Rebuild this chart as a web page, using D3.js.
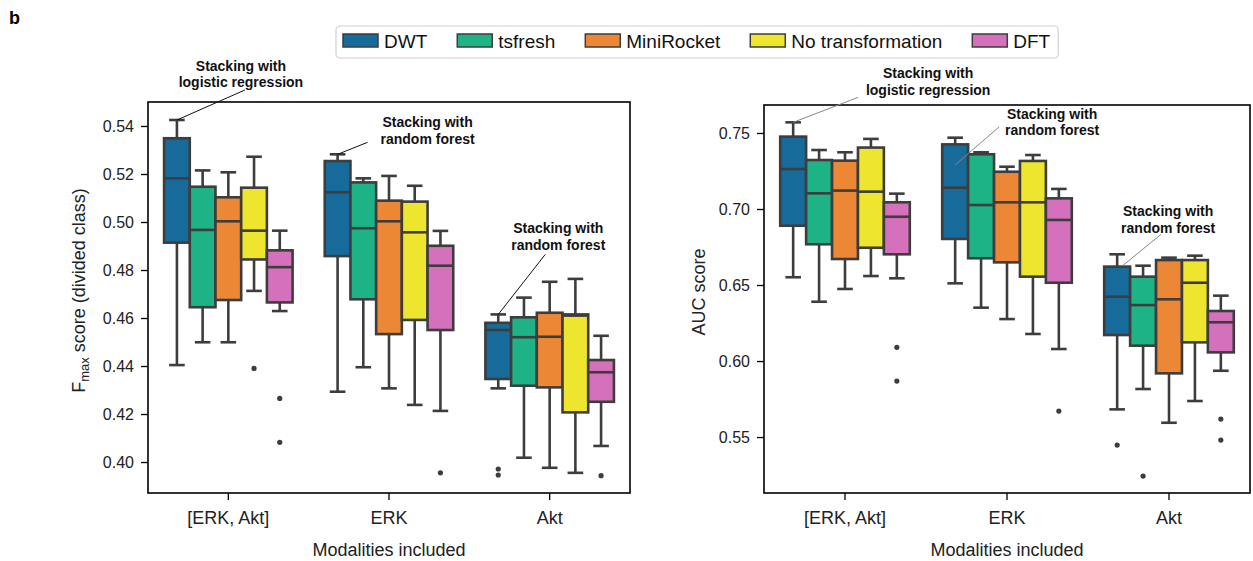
<!DOCTYPE html>
<html>
<head>
<meta charset="utf-8">
<script src="https://cdn.jsdelivr.net/npm/d3@7"></script>
<style>
  body { margin: 0; background: #fff; }
  text { font-family: "Liberation Sans", Arial, sans-serif; }
</style>
</head>
<body>
<script>
// categories and methods
var categories = ["[ERK, Akt]", "ERK", "Akt"];
var methods = ["DWT", "tsfresh", "MiniRocket", "No transformation", "DFT"];
var colors = ["#176b9a", "#1db386", "#ec8735", "#eee62e", "#d470bc"];

// box stats per method: [low whisker, q1, median, q3, high whisker]
var fmaxErkAkt = [[0.4404, 0.4914, 0.5182, 0.5349, 0.5425],
                  [0.4499, 0.4645, 0.4967, 0.5147, 0.5215],
                  [0.4499, 0.4675, 0.5003, 0.5103, 0.5207],
                  [0.4713, 0.4844, 0.4964, 0.5143, 0.5272],
                  [0.4629, 0.4665, 0.4812, 0.4882, 0.4964]];
var fmaxErk = [[0.4293, 0.4858, 0.5124, 0.5254, 0.5282],
               [0.4395, 0.4678, 0.4974, 0.5165, 0.5182],
               [0.4307, 0.4533, 0.5003, 0.5089, 0.5192],
               [0.4238, 0.4592, 0.4957, 0.5085, 0.5151],
               [0.4213, 0.4550, 0.4818, 0.4901, 0.4963]];
var fmaxAkt = [[0.4307, 0.4346, 0.4550, 0.4580, 0.4615],
               [0.4018, 0.4318, 0.4520, 0.4603, 0.4685],
               [0.3976, 0.4311, 0.4522, 0.4622, 0.4751],
               [0.3955, 0.4207, 0.4610, 0.4615, 0.4763],
               [0.4067, 0.4251, 0.4374, 0.4425, 0.4526]];
// outliers: [category index, method index, value]
var fmaxOutliers = [[0, 3, 0.4390], [0, 4, 0.4265], [0, 4, 0.4082],
                    [1, 4, 0.3955],
                    [2, 0, 0.3971], [2, 0, 0.3946], [2, 4, 0.3943]];

var aucErkAkt = [[0.6551, 0.6890, 0.7263, 0.7476, 0.7570],
                 [0.6390, 0.6768, 0.7103, 0.7322, 0.7388],
                 [0.6474, 0.6671, 0.7121, 0.7318, 0.7373],
                 [0.6559, 0.6745, 0.7114, 0.7404, 0.7461],
                 [0.6544, 0.6702, 0.6949, 0.7044, 0.7101]];
var aucErk = [[0.6511, 0.6803, 0.7140, 0.7425, 0.7469],
              [0.6351, 0.6676, 0.7026, 0.7360, 0.7373],
              [0.6276, 0.6649, 0.7044, 0.7245, 0.7278],
              [0.6178, 0.6555, 0.7044, 0.7316, 0.7355],
              [0.6079, 0.6515, 0.6928, 0.7070, 0.7132]];
var aucAkt = [[0.5682, 0.6171, 0.6423, 0.6621, 0.6702],
              [0.5816, 0.6101, 0.6368, 0.6555, 0.6627],
              [0.5594, 0.5919, 0.6406, 0.6664, 0.6680],
              [0.5737, 0.6123, 0.6515, 0.6664, 0.6693],
              [0.5936, 0.6057, 0.6255, 0.6329, 0.6430]];
var aucOutliers = [[0, 4, 0.6090], [0, 4, 0.5868],
                   [1, 4, 0.5671],
                   [2, 0, 0.5447], [2, 1, 0.5243], [2, 4, 0.5618], [2, 4, 0.5480]];

var fmaxTicks = [0.40, 0.42, 0.44, 0.46, 0.48, 0.50, 0.52, 0.54];
var aucTicks = [0.55, 0.60, 0.65, 0.70, 0.75];

var W = 1253, H = 561;
var ink = "#3d3d3d";

var svg = d3.select("body").append("svg")
    .attr("width", W)
    .attr("height", H);

svg.append("text").attr("x", 9).attr("y", 24)
   .attr("font-size", 18).attr("font-weight", "bold").text("b");

var panels = [
  { x0: 148, x1: 630, y0: 102, y1: 493, domain: [0.3871, 0.5500], ticks: fmaxTicks,
    stats: [fmaxErkAkt, fmaxErk, fmaxAkt], outliers: fmaxOutliers, labelX: 85, noteColor: "#111",
    notes: [
      { cat: 0, value: 0.5425, dx: 0, lines: ["Stacking with", "logistic regression"], tx: 64, ty: -54, lx: 68, ly: -30 },
      { cat: 1, value: 0.5282, dx: 0, lines: ["Stacking with", "random forest"], tx: 90, ty: -32, lx: 30, ly: -12 },
      { cat: 2, value: 0.4615, dx: 0, lines: ["Stacking with", "random forest"], tx: 60, ty: -86, lx: 47, ly: -60 }
    ] },
  { x0: 764, x1: 1250, y0: 105, y1: 493, domain: [0.5132, 0.7684], ticks: aucTicks,
    stats: [aucErkAkt, aucErk, aucAkt], outliers: aucOutliers, labelX: 705, noteColor: "#888",
    notes: [
      { cat: 0, value: 0.7570, dx: 0, lines: ["Stacking with", "logistic regression"], tx: 135, ty: -49, lx: 65, ly: -25 },
      { cat: 1, value: 0.7290, dx: 0, lines: ["Stacking with", "random forest"], tx: 97, ty: -51, lx: 44, ly: -38 },
      { cat: 2, value: 0.6630, dx: 6, lines: ["Stacking with", "random forest"], tx: 45, ty: -54, lx: 38, ly: -31 }
    ] }
];

panels.forEach(function (p, pi) {
  var x = d3.scaleBand().domain(categories).range([p.x0, p.x1])
            .paddingInner(0.2).paddingOuter(0.1);
  var hue = d3.scaleBand().domain(methods).range([0, x.bandwidth()]);
  var y = d3.scaleLinear().domain(p.domain).range([p.y1, p.y0]);
  var g = svg.append("g");

  var boxes = [];
  p.stats.forEach(function (cat, ci) {
    cat.forEach(function (s, mi) {
      boxes.push({ ci: ci, mi: mi, s: s });
    });
  });

  var bw = hue.bandwidth();
  var cx = function (ci, mi) { return x(categories[ci]) + hue(methods[mi]) + bw / 2; };

  var bg = g.selectAll("g.box").data(boxes).enter().append("g").attr("class", "box");
  // whiskers
  bg.append("line")
    .attr("x1", function (d) { return cx(d.ci, d.mi); })
    .attr("x2", function (d) { return cx(d.ci, d.mi); })
    .attr("y1", function (d) { return y(d.s[0]); })
    .attr("y2", function (d) { return y(d.s[4]); })
    .attr("stroke", ink).attr("stroke-width", 2.6);
  // caps
  [0, 4].forEach(function (k) {
    bg.append("line")
      .attr("x1", function (d) { return cx(d.ci, d.mi) - 7.8; })
      .attr("x2", function (d) { return cx(d.ci, d.mi) + 7.8; })
      .attr("y1", function (d) { return y(d.s[k]); })
      .attr("y2", function (d) { return y(d.s[k]); })
      .attr("stroke", ink).attr("stroke-width", 2.6);
  });
  bg.append("rect")
    .attr("x", function (d) { return cx(d.ci, d.mi) - bw / 2; })
    .attr("width", bw)
    .attr("y", function (d) { return y(d.s[3]); })
    .attr("height", function (d) { return y(d.s[1]) - y(d.s[3]); })
    .attr("fill", function (d) { return colors[d.mi]; })
    .attr("stroke", ink).attr("stroke-width", 2.6);
  bg.append("line")
    .attr("x1", function (d) { return cx(d.ci, d.mi) - bw / 2; })
    .attr("x2", function (d) { return cx(d.ci, d.mi) + bw / 2; })
    .attr("y1", function (d) { return y(d.s[2]); })
    .attr("y2", function (d) { return y(d.s[2]); })
    .attr("stroke", ink).attr("stroke-width", 2.6);

  g.selectAll("circle").data(p.outliers).enter().append("circle")
    .attr("cx", function (d) { return cx(d[0], d[1]); })
    .attr("cy", function (d) { return y(d[2]); })
    .attr("r", 2.6)
    .attr("fill", ink);

  // frame
  g.append("rect").attr("x", p.x0).attr("y", p.y0)
   .attr("width", p.x1 - p.x0).attr("height", p.y1 - p.y0)
   .attr("fill", "none").attr("stroke", "#000").attr("stroke-width", 1.6);

  var ya = g.append("g").attr("transform", "translate(" + p.x0 + ",0)")
    .call(d3.axisLeft(y).tickValues(p.ticks).tickFormat(d3.format(".2f")).tickSize(7).tickPadding(7));
  ya.select(".domain").remove();
  ya.selectAll("line").attr("stroke", "#000").attr("stroke-width", 1.3);
  ya.selectAll("text").attr("font-size", 16).attr("fill", "#222")
    .style("font-family", "'Liberation Sans', Arial, sans-serif");

  var xa = g.append("g").attr("transform", "translate(0," + p.y1 + ")")
    .call(d3.axisBottom(x).tickSize(7).tickPadding(11));
  xa.select(".domain").remove();
  xa.selectAll("line").attr("stroke", "#000").attr("stroke-width", 1.3);
  xa.selectAll("text").attr("font-size", 18).attr("fill", "#222")
    .style("font-family", "'Liberation Sans', Arial, sans-serif");

  g.append("text").attr("x", (p.x0 + p.x1) / 2).attr("y", 556)
   .attr("text-anchor", "middle").attr("font-size", 18).attr("fill", "#222")
   .text("Modalities included");

  var yl = g.append("text")
    .attr("transform", "translate(" + p.labelX + "," + ((p.y0 + p.y1) / 2 - 7) + ") rotate(-90)")
    .attr("text-anchor", "middle").attr("font-size", 18).attr("fill", "#222");
  if (pi === 0) {
    yl.append("tspan").text("F");
    yl.append("tspan").attr("font-size", 13).attr("dy", 4).text("max");
    yl.append("tspan").attr("dy", -4).text(" score (divided class)");
  } else {
    yl.text("AUC score");
  }

  // annotations
  p.notes.forEach(function (n) {
    var px = cx(n.cat, 0) + n.dx, py = y(n.value);
    g.append("line")
      .attr("x1", px + n.lx).attr("y1", py + n.ly)
      .attr("x2", px).attr("y2", py)
      .attr("stroke", p.noteColor).attr("stroke-width", 1);
    n.lines.forEach(function (t, i) {
      g.append("text")
        .attr("x", px + n.tx).attr("y", py + n.ty + i * 16.5)
        .attr("dy", "0.35em")
        .attr("text-anchor", "middle").attr("font-size", 14).attr("font-weight", "bold")
        .attr("fill", "#111").text(t);
    });
  });
});

// legend
var leg = svg.append("g");
var frame = leg.append("rect").attr("x", 336).attr("y", 26).attr("height", 32).attr("rx", 4)
  .attr("fill", "#fff").attr("stroke", "#d0d0d0").attr("stroke-width", 1.2);
var lx = 343, gap = 30;
methods.forEach(function (m, i) {
  leg.append("rect").attr("x", lx).attr("y", 34).attr("width", 35).attr("height", 13)
     .attr("fill", colors[i]).attr("stroke", ink).attr("stroke-width", 1.5);
  var t = leg.append("text").attr("x", lx + 41).attr("y", 47.5)
     .attr("font-size", 19).attr("fill", "#111").text(m);
  lx += 41 + t.node().getComputedTextLength() + gap;
});
frame.attr("width", lx - gap + 8 - 336);
</script>
</body>
</html>
